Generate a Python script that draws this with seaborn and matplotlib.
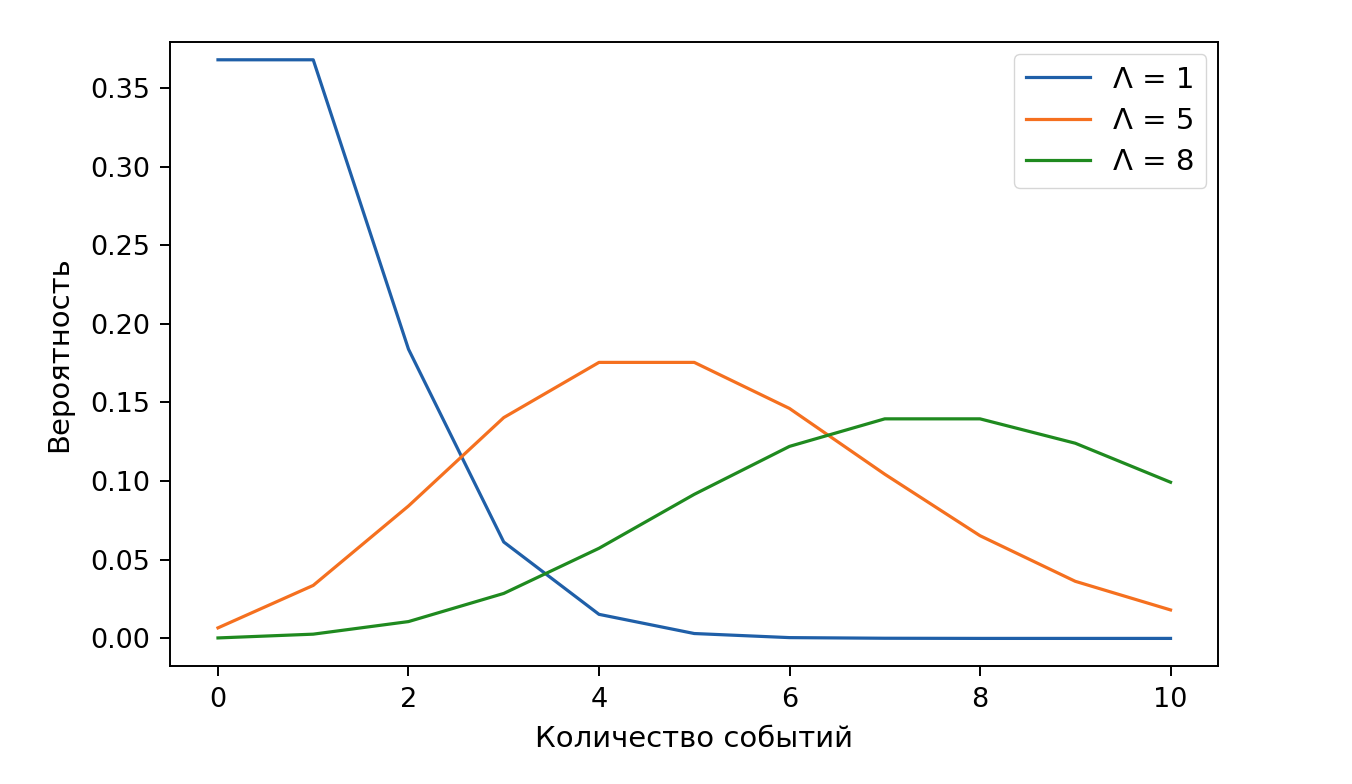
import matplotlib
matplotlib.use('Agg')
import matplotlib.pyplot as plt
import pandas as pd
import seaborn as sns

events = list(range(11))
lam_1 = [0.3679, 0.3679, 0.1839, 0.0613, 0.0153, 0.0031, 0.0005, 0.0001, 0.0000, 0.0000, 0.0000]
lam_5 = [0.0067, 0.0337, 0.0842, 0.1404, 0.1755, 0.1755, 0.1462, 0.1044, 0.0653, 0.0363, 0.0181]
lam_8 = [0.0003, 0.0027, 0.0107, 0.0286, 0.0573, 0.0916, 0.1221, 0.1396, 0.1396, 0.1241, 0.0993]
labels = ['Λ = 1', 'Λ = 5', 'Λ = 8']

df = pd.concat([
    pd.DataFrame({'x': events, 'p': vals, 'lam': lab})
    for vals, lab in zip([lam_1, lam_5, lam_8], labels)
])

plt.rcParams['font.family'] = ['DejaVu Sans']
fig = plt.figure(figsize=(13.52, 7.84), dpi=100)
ax = fig.add_axes([0.126, 0.150, 0.775, 0.796])
palette = ['#1f5fa8', '#f5701f', '#1f8a1f']
sns.lineplot(data=df, x='x', y='p', hue='lam', palette=palette, linewidth=2.3, ax=ax)

ax.set_xticks([0, 2, 4, 6, 8, 10])
ax.set_yticks([0.0, 0.05, 0.10, 0.15, 0.20, 0.25, 0.30, 0.35])
ax.set_yticklabels([f'{v:.2f}' for v in ax.get_yticks()])
ax.set_ylim(-0.0178, 0.379)
ax.set_xlim(-0.5, 10.5)
ax.tick_params(labelsize=19.5, length=7.5, width=1.4, pad=7)
ax.set_xlabel('Количество событий', fontsize=21, labelpad=9)
ax.set_ylabel('Вероятность', fontsize=21, labelpad=12)
for s in ax.spines.values():
    s.set_linewidth(1.4)
leg = ax.legend(title=None, fontsize=21, loc='upper right', handlelength=2.2,
                borderaxespad=0.4, labelspacing=0.45)
for h in leg.get_lines():
    h.set_linewidth(2.3)

plt.savefig('out.png', dpi=100)
